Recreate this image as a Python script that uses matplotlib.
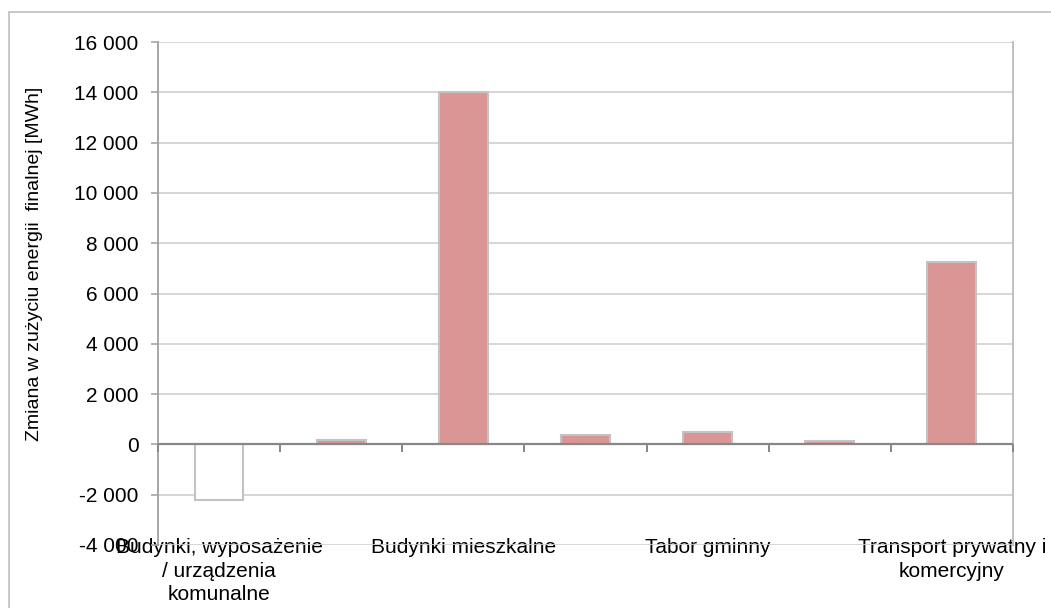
import numpy as np
import matplotlib
matplotlib.use("Agg")
import matplotlib.pyplot as plt
from matplotlib.patches import Rectangle
from matplotlib.ticker import FuncFormatter

plt.rcParams['font.family'] = ['Liberation Sans', 'DejaVu Sans']

# kategorie (co druga etykieta nie jest pokazana na wykresie)
kategorie = ["Budynki, wyposażenie\n/ urządzenia\nkomunalne", "",
             "Budynki mieszkalne", "", "Tabor gminny", "",
             "Transport prywatny i\nkomercyjny"]
zmiana = [-2200, 170, 14000, 360, 480, 120, 7250]
y_ticks = [-4000, -2000, 0, 2000, 4000, 6000, 8000, 10000, 12000, 14000, 16000]

fig = plt.figure(figsize=(10.51, 6.08), dpi=100)
ax = fig.add_axes([158/1051, 1 - 545/608, (1013 - 158)/1051, (545 - 42)/608])

x = np.arange(len(zmiana))
kolory = ['white' if v < 0 else '#d99694' for v in zmiana]
ax.bar(x, zmiana, width=0.4, color=kolory, edgecolor='#c3c3c3', linewidth=1.5, zorder=3)

ax.set_xlim(-0.5, len(zmiana) - 0.5)
ax.set_ylim(-4000, 16000)
ax.set_yticks(y_ticks)
ax.yaxis.set_major_formatter(FuncFormatter(lambda v, p: f"{int(v):,}".replace(",", " ")))
ax.grid(axis='y', color='#d0d0d0', linewidth=1.2, zorder=0)
ax.tick_params(axis='y', length=5, color='#a6a6a6', width=1.2, labelsize=15, pad=9)

ax.set_xticks(x)
ax.set_xticklabels(kategorie, fontsize=15, linespacing=1.3)
ax.tick_params(axis='x', length=0, pad=-5)

# os zero z kreskami miedzy kategoriami
ax.axhline(0, color='#878787', linewidth=1.6, zorder=4)
granice = np.arange(len(zmiana) + 1) - 0.5
ax.plot(granice, np.zeros(len(granice)), ls='none', marker=3, ms=6,
        mew=1.4, color='#878787', zorder=4, clip_on=False)

for s in ['top', 'bottom']:
    ax.spines[s].set_visible(False)
ax.spines['left'].set_color('#a6a6a6')
ax.spines['left'].set_linewidth(1.4)
ax.spines['right'].set_color('#c0c0c0')
ax.spines['right'].set_linewidth(1.4)

ax.set_ylabel("Zmiana w zużyciu energii  finalnej [MWh]", fontsize=14)
ax.yaxis.set_label_coords(-0.134, 0.559)

# ramka wykresu
fig.patches.append(Rectangle((9/1051, -0.1), 1.2, 1 - 12/608 + 0.1, transform=fig.transFigure,
                             fill=False, edgecolor='#c8c8c8', linewidth=1.4))

fig.savefig("out.png", dpi=100)
